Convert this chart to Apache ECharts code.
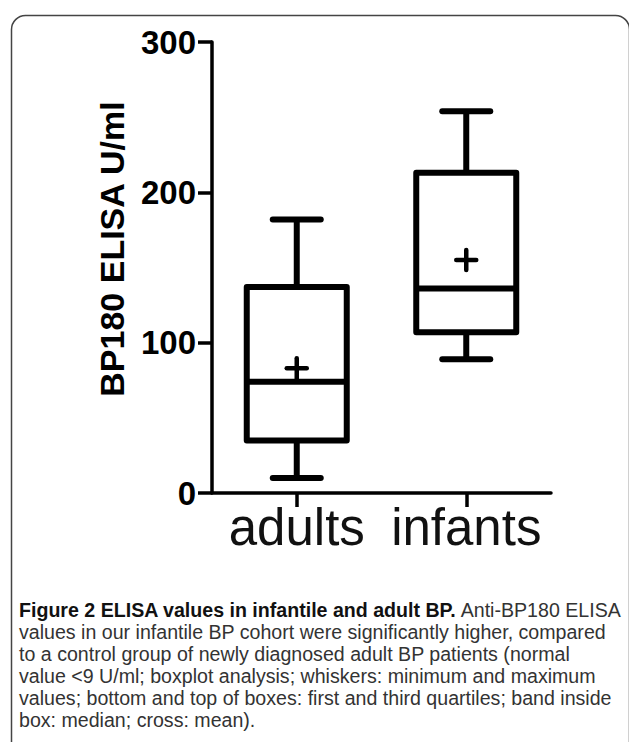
<!DOCTYPE html>
<html>
<head>
<meta charset="utf-8">
<script src="https://cdn.jsdelivr.net/npm/echarts@6/dist/echarts.min.js"></script>
<style>
html,body{margin:0;padding:0;background:#fff;}
#chart{width:629px;height:742px;}
</style>
</head>
<body>
<div id="chart"></div>
<script>
// ---- data ----
const categories = ['adults', 'infants'];
const minValues = [10, 89];
const q1Values = [35, 107];
const medianValues = [74, 136];
const q3Values = [137, 213];
const maxValues = [182, 254];
const meanValues = [83, 155];
const yMin = 0, yMax = 300, yInterval = 100;
const yTitle = 'BP180 ELISA U/ml';
const captionBold = 'Figure 2 ELISA values in infantile and adult BP.';
const captionLines = [
  ' Anti-BP180 ELISA',
  'values in our infantile BP cohort were significantly higher, compared',
  'to a control group of newly diagnosed adult BP patients (normal',
  'value <9 U/ml; boxplot analysis; whiskers: minimum and maximum',
  'values; bottom and top of boxes: first and third quartiles; band inside',
  'box: median; cross: mean).'
];

const boxData = categories.map((c, i) => [i, minValues[i], q1Values[i], medianValues[i], q3Values[i], maxValues[i], meanValues[i]]);

const chart = echarts.init(document.getElementById('chart'), null, {renderer: 'svg'});

const INK = '#000';
const BOX_LW = 6;
const AX_LW = 3.5;

function renderBox(params, api) {
  const cx = api.coord([api.value(0), 0])[0];
  const y = k => api.coord([api.value(0), api.value(k)])[1];
  const yMn = y(1), yQ1 = y(2), yMd = y(3), yQ3 = y(4), yMx = y(5), yMean = y(6);
  const halfBox = 50, halfCap = 24, cross = 10;
  const st = {stroke: INK, lineWidth: BOX_LW, lineCap: 'round', lineJoin: 'round', fill: null};
  const st2 = {stroke: INK, lineWidth: 4.5, lineCap: 'round', fill: null};
  return {
    type: 'group',
    children: [
      {type: 'rect', shape: {x: cx - halfBox, y: yQ3, width: 2 * halfBox, height: yQ1 - yQ3}, style: Object.assign({}, st, {fill: 'none'})},
      {type: 'line', shape: {x1: cx - halfBox, y1: yMd, x2: cx + halfBox, y2: yMd}, style: Object.assign({}, st, {lineCap: 'butt'})},
      {type: 'line', shape: {x1: cx, y1: yQ3, x2: cx, y2: yMx}, style: Object.assign({}, st, {lineCap: 'butt'})},
      {type: 'line', shape: {x1: cx - halfCap, y1: yMx, x2: cx + halfCap, y2: yMx}, style: st},
      {type: 'line', shape: {x1: cx, y1: yQ1, x2: cx, y2: yMn}, style: Object.assign({}, st, {lineCap: 'butt'})},
      {type: 'line', shape: {x1: cx - halfCap, y1: yMn, x2: cx + halfCap, y2: yMn}, style: st},
      {type: 'line', shape: {x1: cx - cross, y1: yMean, x2: cx + cross, y2: yMean}, style: st2},
      {type: 'line', shape: {x1: cx, y1: yMean - cross, x2: cx, y2: yMean + cross}, style: st2}
    ]
  };
}

const CAP_FONT = 'Liberation Sans';
const CAP_FS = 19.6;
const CAP_LH = 22;
const captionTop = 610, captionLeft = 19;
const captionText = captionLines.map((t, i) =>
  i === 0 ? '{b|' + captionBold + '}{r|' + t + '}' : '{r|' + t + '}'
).join('\n');

chart.setOption({
  animation: false,
  backgroundColor: '#fff',
  grid: {left: 212, right: 78, top: 42, bottom: 249, containLabel: false},
  xAxis: {
    type: 'category',
    data: categories,
    boundaryGap: true,
    axisLine: {show: true, lineStyle: {color: INK, width: AX_LW}},
    axisTick: {show: true, alignWithLabel: true, length: 14, lineStyle: {color: INK, width: AX_LW}},
    axisLabel: {interval: 0, hideOverlap: false, fontFamily: 'Liberation Sans', fontSize: 51, color: '#111', margin: 9}
  },
  yAxis: {
    type: 'value',
    min: yMin, max: yMax, interval: yInterval,
    axisLine: {show: true, lineStyle: {color: INK, width: AX_LW}},
    axisTick: {show: true, length: 14, lineStyle: {color: INK, width: AX_LW}},
    axisLabel: {fontFamily: 'Liberation Sans', fontSize: 33, fontWeight: 'bold', color: INK, margin: 16},
    splitLine: {show: false}
  },
  series: [{
    type: 'custom',
    renderItem: renderBox,
    data: boxData,
    encode: {x: 0, y: [1, 2, 3, 4, 5, 6]},
    clip: false
  }],
  graphic: [
    {type: 'rect', left: 9, top: 13, shape: {width: 618, height: 790, r: 14}, style: {fill: 'none', stroke: '#444', lineWidth: 1.5}, z: 0},
    {type: 'text', x: 112, y: 249, rotation: Math.PI / 2,
     style: {text: yTitle, fontFamily: 'Liberation Sans', fontSize: 34, fontWeight: 'bold', fill: INK, align: 'center', verticalAlign: 'middle'}},
    {type: 'text', x: captionLeft, y: captionTop - CAP_LH / 2,
     style: {
       text: captionText,
       verticalAlign: 'top',
       lineHeight: CAP_LH,
       rich: {
         b: {fontFamily: CAP_FONT, fontSize: CAP_FS, fontWeight: 'bold', fill: '#111', lineHeight: CAP_LH},
         r: {fontFamily: CAP_FONT, fontSize: CAP_FS, fill: '#333', lineHeight: CAP_LH}
       }
     }}
  ]
});
</script>
</body>
</html>
